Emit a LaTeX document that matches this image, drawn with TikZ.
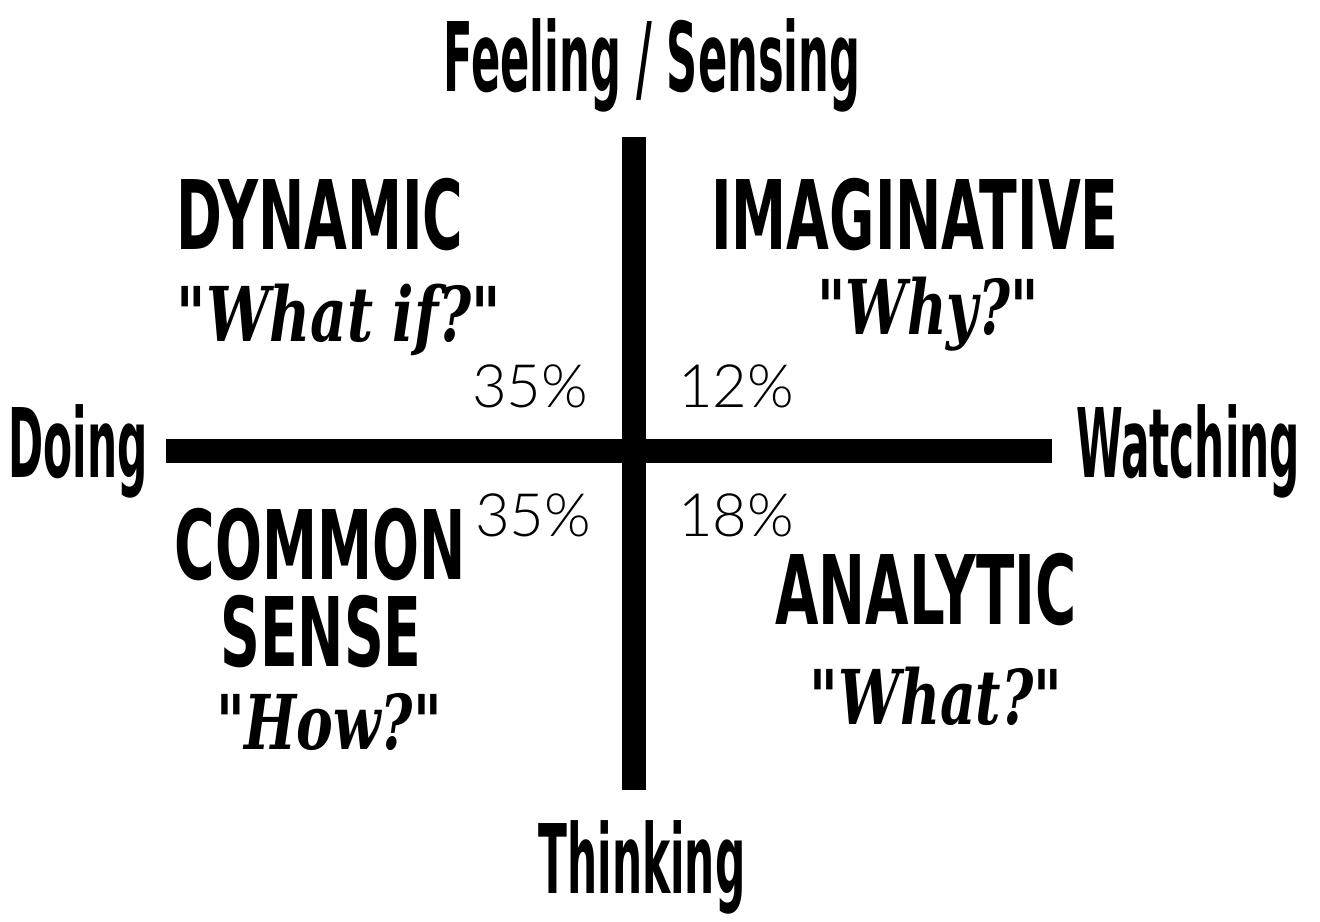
\documentclass[tikz,border=0pt]{standalone}
\usepackage{fontspec}
\newfontfamily\blockfont{DejaVu Sans Condensed Bold}
\newfontfamily\brushfont{DejaVu Serif Condensed Bold Italic}
\newfontfamily\pctfont{Lato Light}
\usetikzlibrary{positioning}
\newcommand{\squeeze}[2][0.64]{\scalebox{#1}[1]{#2}}

\begin{document}
\begin{tikzpicture}[x=0.01cm, y=-0.01cm,
    every node/.style={inner sep=0pt, anchor=base},
    title/.style={font=\blockfont\fontsize{27.3}{30}\selectfont},
    question/.style={font=\brushfont\fontsize{21.5}{24}\selectfont},
    share/.style={font=\pctfont\fontsize{17}{20}\selectfont},
    axis/.style={line width=0.24cm, line cap=butt}]
    \useasboundingbox (0,0) rectangle (1320,922);
    % the two axes
    \coordinate (top) at (634,137);
    \coordinate (bottom) at (634,790);
    \coordinate (left) at (166,451);
    \coordinate (right) at (1052,451);
    \draw[axis] (top) -- (bottom);
    \draw[axis] (left) -- (right);
    % axis labels
    \node[title] (feel) at (652,92) {\squeeze[0.5]{Feeling / Sensing}};
    \node[title] (think) at (642,894) {\squeeze[0.49]{Thinking}};
    \node[title] (doing) at (78,478) {\squeeze[0.49]{Doing}};
    \node[title] (watch) at (1188,478) {\squeeze[0.49]{Watching}};
    % quadrants
    \node[title] (dynamic) at (320,250) {\squeeze{DYNAMIC}};
    \node[question] (whatif) at (339,342) {\squeeze[0.83]{"What if?"}};
    \node[title] (imagin) at (915,250) {\squeeze{IMAGINATIVE}};
    \node[question] (why) at (928,335) {\squeeze[0.8]{"Why?"}};
    \node[title] (common) at (320,580) {\squeeze{COMMON}};
    \node[title] (sense) at (321,667) {\squeeze{SENSE}};
    \node[question] (how) at (329,750) {\squeeze[0.81]{"How?"}};
    \node[title] (analytic) at (926,625) {\squeeze[0.65]{ANALYTIC}};
    \node[question] (what) at (936,725) {\squeeze[0.81]{"What?"}};
    % shares
    \node[share] (dyn pct) at (530,408) {35\%};
    \node[share] (img pct) at (736,408) {12\%};
    \node[share] (com pct) at (533,537) {35\%};
    \node[share] (ana pct) at (736,537) {18\%};
\end{tikzpicture}
\end{document}
